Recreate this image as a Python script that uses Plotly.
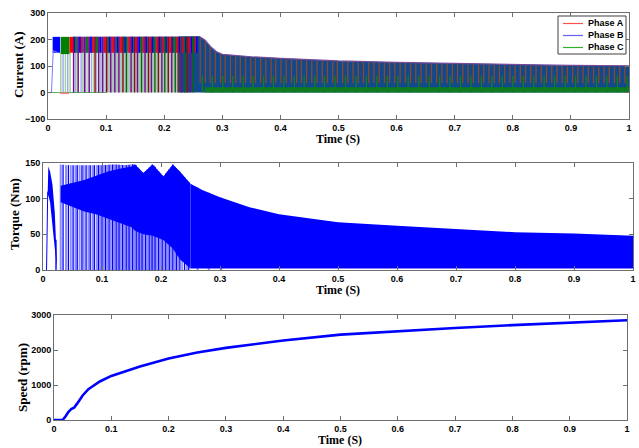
import numpy as np
import plotly.graph_objects as go

# ---------------- data ----------------
# Phase currents: upper envelope of the dense band (A)
cur_env_t = [0.008, 0.26, 0.27, 0.28, 0.29, 0.30, 0.35, 0.40, 0.50, 0.60, 0.70, 0.80, 0.90, 1.00]
cur_env_v = [210, 212, 198, 173, 154, 144, 135, 129, 119, 114, 110, 105, 102, 101]
cur_mid_level = 150          # lower edge of the early high band (A)
cur_green_floor = 20         # top of the green floor in steady running (A)
cur_green_reach = 62         # typical reach of green stripes (A)
cur_brown_low = 35           # lower end of brown stripes (A)
# early solid blocks: (phase colour, start, end, low, high)
cur_blocks = [("#0000ff", 0.008, 0.021, 150, 210),
              ("#008000", 0.022, 0.037, 145, 210),
              ("#ff0000", 0.037, 0.043, 150, 210)]
# pulse stripes reaching from 0 to the top (early region)
cur_purple_t = [0.044, 0.052, 0.063, 0.071, 0.087, 0.094, 0.108, 0.115, 0.122, 0.143,
                0.154, 0.167, 0.178, 0.196, 0.213, 0.230, 0.245]
cur_darkred_t = [0.081, 0.101, 0.129, 0.149, 0.173, 0.190, 0.207, 0.224, 0.240]
cur_dkgreen_t = [0.135, 0.161, 0.184, 0.201, 0.219, 0.235, 0.250]
# stripes in the 150-210 A band (early region)
cur_red_t = [0.058, 0.077, 0.098, 0.112, 0.126, 0.140, 0.152, 0.165, 0.176, 0.188,
             0.199, 0.210, 0.221, 0.232, 0.243, 0.254]
cur_green_t = [0.048, 0.067, 0.084, 0.104, 0.118, 0.131, 0.146, 0.158, 0.170, 0.181,
               0.193, 0.204, 0.216, 0.227, 0.238, 0.248]
cur_blue_t = [0.045, 0.055, 0.074, 0.090, 0.106, 0.120, 0.133, 0.145, 0.157, 0.169,
              0.180, 0.192, 0.203, 0.214, 0.226, 0.237, 0.247, 0.256]
# pale (light) pulses in the early region
cur_palegreen_t = [0.022, 0.030, 0.038, 0.050, 0.060, 0.069, 0.079, 0.088, 0.096]
cur_palelav_t = [0.026, 0.034, 0.047, 0.057, 0.065, 0.075, 0.083, 0.091, 0.099]
# steady-running stripes
cur_brown_t = [0.262, 0.271, 0.279, 0.288, 0.297, 0.305, 0.314, 0.323, 0.331, 0.340,
               0.349, 0.357, 0.366, 0.375, 0.384, 0.392, 0.401, 0.410, 0.419, 0.428,
               0.436, 0.445, 0.454, 0.463, 0.472, 0.481, 0.490, 0.498, 0.507, 0.516,
               0.525, 0.534, 0.543, 0.552, 0.561, 0.570, 0.579, 0.588, 0.597, 0.606,
               0.615, 0.624, 0.633, 0.642, 0.651, 0.660, 0.669, 0.678, 0.687, 0.696,
               0.705, 0.714, 0.723, 0.732, 0.741, 0.750, 0.759, 0.768, 0.777, 0.786,
               0.795, 0.804, 0.813, 0.822, 0.831, 0.840, 0.849, 0.858, 0.867, 0.876,
               0.885, 0.894, 0.903, 0.912, 0.921, 0.930, 0.939, 0.948, 0.957, 0.966,
               0.975, 0.984, 0.993]
cur_lgreen_t = [0.266, 0.283, 0.301, 0.318, 0.336, 0.353, 0.371, 0.388, 0.406, 0.424,
                0.441, 0.459, 0.476, 0.494, 0.512, 0.530, 0.548, 0.566, 0.584, 0.602,
                0.620, 0.638, 0.656, 0.674, 0.692, 0.710, 0.728, 0.746, 0.764, 0.782,
                0.800, 0.818, 0.836, 0.854, 0.872, 0.890, 0.908, 0.926, 0.944, 0.962,
                0.980, 0.997]

# Torque (Nm): upper envelope
tq_env_t = [0.008, 0.009, 0.016, 0.020, 0.024, 0.028, 0.04, 0.06, 0.08, 0.10, 0.12, 0.14,
            0.156, 0.170, 0.186, 0.204, 0.220, 0.232, 0.25, 0.27, 0.30, 0.35, 0.40, 0.45,
            0.50, 0.60, 0.70, 0.80, 0.90, 1.00]
tq_env_v = [110, 145, 120, 80, 5, 148, 147, 147, 147, 147, 148, 147,
            148.6, 135.6, 148.6, 131, 148, 137.6, 121, 112, 102, 88, 78, 72,
            67, 62, 57, 53, 51, 48]
tq_floor = 2
# first start-up wedge
tq_wedge_t = [0.008, 0.009, 0.012, 0.016, 0.020, 0.024]
tq_wedge_top = [110, 145, 138, 120, 80, 5]
tq_wedge_bot = [100, 105, 95, 65, 30, 0]
# dense core band during acceleration
tq_core_t = [0.030, 0.050, 0.070, 0.090, 0.110, 0.130, 0.150, 0.156, 0.170, 0.186, 0.204,
             0.220, 0.232, 0.250]
tq_core_top = [118, 122, 126, 132, 138, 142, 145, 148, 136, 148, 131, 148, 138, 121]
tq_core_bot = [95, 88, 82, 78, 72, 66, 60, 55, 50, 48, 42, 30, 15, 2]
# torque dips reaching zero
tq_dark_t = [0.022, 0.034, 0.043, 0.051, 0.058, 0.066, 0.073, 0.080, 0.087, 0.094, 0.100,
             0.106, 0.112, 0.118, 0.124, 0.129, 0.135, 0.141, 0.146, 0.152, 0.158, 0.163,
             0.168, 0.174, 0.180, 0.185, 0.190, 0.196, 0.202, 0.208, 0.214, 0.220, 0.226,
             0.232, 0.240, 0.247]
tq_pale_t = [0.030, 0.039, 0.047, 0.055, 0.062, 0.069, 0.077, 0.084, 0.091, 0.097, 0.103,
             0.109, 0.115, 0.121, 0.127, 0.132, 0.138, 0.144, 0.149, 0.155, 0.161, 0.166,
             0.171, 0.177, 0.183, 0.188, 0.193, 0.199, 0.205, 0.211, 0.217, 0.223, 0.229,
             0.236, 0.244, 0.262, 0.281, 0.302]

# Speed (rpm)
spd_t = [0, 0.015, 0.02, 0.025, 0.03, 0.035, 0.04, 0.05, 0.06, 0.07, 0.08, 0.1, 0.125,
         0.15, 0.2, 0.25, 0.3, 0.35, 0.4, 0.5, 0.6, 0.7, 0.8, 0.9, 1.0]
spd_v = [0, 0, 100, 230, 310, 350, 460, 700, 880, 1000, 1100, 1260, 1400, 1530, 1760,
         1930, 2060, 2170, 2270, 2440, 2540, 2630, 2710, 2790, 2850]

x_ticks = [0, 0.1, 0.2, 0.3, 0.4, 0.5, 0.6, 0.7, 0.8, 0.9, 1]
legend_names = ["Phase A", "Phase B", "Phase C"]
legend_colors = ["#ff5050", "#6060ff", "#30b030"]

# ---------------- helpers ----------------
fig = go.Figure()
W, H = 639, 448


def band(t, top, bot, color, xa, ya, opacity=1.0):
    t = list(t)
    fig.add_trace(go.Scatter(x=t + t[::-1], y=list(top) + list(bot)[::-1], fill="toself",
                             fillcolor=color, line=dict(width=0), mode="lines",
                             opacity=opacity, hoverinfo="skip", showlegend=False,
                             xaxis=xa, yaxis=ya))


def stripes(ts, lo, hi, color, width, xa, ya, opacity=1.0):
    xs, ys = [], []
    for i, t in enumerate(ts):
        l = lo[i] if isinstance(lo, (list, np.ndarray)) else lo
        h = hi[i] if isinstance(hi, (list, np.ndarray)) else hi
        xs += [t, t, None]
        ys += [l, h, None]
    fig.add_trace(go.Scatter(x=xs, y=ys, mode="lines", line=dict(color=color, width=width),
                             opacity=opacity, hoverinfo="skip", showlegend=False,
                             xaxis=xa, yaxis=ya))


# ---------------- Current panel ----------------
cenv = lambda ts: np.interp(ts, cur_env_t, cur_env_v)
band([0.10, 0.24], [150, 150], [0, 0], "#aac6bc", "x", "y")
stripes(cur_palegreen_t, 0, cur_mid_level, "#9fd49f", 1.5, "x", "y")
stripes(cur_palelav_t, 0, cur_mid_level, "#a9a9ef", 1.5, "x", "y")
band([0.043, 0.26], [210, 211], [150, 150], "#5b4fb4", "x", "y")
dt = [0.225] + [t for t in cur_env_t if t > 0.225]
band(dt, list(cenv(dt)), [0] * len(dt), "#12488c", "x", "y")
for col, t0, t1, lo, hi in cur_blocks:
    band([t0, t1], [hi, hi], [lo, lo], col, "x", "y")
fig.add_trace(go.Scatter(x=[0, 0.006, 0.009, 0.018], y=[0, 0, 158, 150], mode="lines",
                         line=dict(color="#7d7dff", width=1), hoverinfo="skip",
                         showlegend=False, xaxis="x", yaxis="y"))
fig.add_trace(go.Scatter(x=[0, 0.1], y=[0, 0], mode="lines",
                         line=dict(color="#60b060", width=1), hoverinfo="skip",
                         showlegend=False, xaxis="x", yaxis="y"))
fig.add_trace(go.Scatter(x=[0.021, 0.036], y=[-3, -3], mode="lines",
                         line=dict(color="#ff8080", width=1.5), hoverinfo="skip",
                         showlegend=False, xaxis="x", yaxis="y"))
stripes(cur_red_t, 150, 210, "#ff0000", 1.6, "x", "y")
stripes(cur_green_t, 150, 210, "#008000", 1.6, "x", "y")
stripes(cur_blue_t, 150, 210, "#0000ff", 1.6, "x", "y")
stripes(cur_purple_t, 0, 210, "#7a0a8a", 1.4, "x", "y")
stripes(cur_darkred_t, 0, 210, "#8b1010", 1.4, "x", "y")
stripes(cur_dkgreen_t, 0, 210, "#0a6a0a", 1.4, "x", "y")
stripes(cur_brown_t, cur_brown_low, list(cenv(cur_brown_t) - 3), "#8a4a2a", 1.3, "x", "y")
stripes(cur_lgreen_t, 0, cur_green_reach, "#0f7f1f", 1.4, "x", "y")
band([0.27, 1.0], [cur_green_floor, cur_green_floor], [0, 0], "#107a20", "x", "y")
et = [t for t in cur_env_t if t >= 0.26]
fig.add_trace(go.Scatter(x=et, y=list(cenv(et)), mode="lines",
                         line=dict(color="#7a4a9a", width=1.2), hoverinfo="skip",
                         showlegend=False, xaxis="x", yaxis="y"))

# ---------------- Torque panel ----------------
tenv = lambda ts: np.interp(ts, tq_env_t, tq_env_v)
stripes(tq_pale_t, 0, list(tenv(tq_pale_t)), "#8c8cff", 2.0, "x2", "y2")
band(tq_wedge_t, tq_wedge_top, tq_wedge_bot, "#0000ff", "x2", "y2")
band(tq_core_t, tq_core_top, tq_core_bot, "#0000ff", "x2", "y2")
lt = [0.25] + [t for t in tq_env_t if t > 0.25]
band(lt, list(tenv(lt)), [tq_floor] * len(lt), "#0000ff", "x2", "y2")
stripes(tq_dark_t, 0, list(tenv(tq_dark_t)), "#0000ff", 1.3, "x2", "y2")
fig.add_trace(go.Scatter(x=[0.006, 0.008], y=[0, 110], mode="lines",
                         line=dict(color="#0000ff", width=1), hoverinfo="skip",
                         showlegend=False, xaxis="x2", yaxis="y2"))

# ---------------- Speed panel ----------------
fig.add_trace(go.Scatter(x=spd_t, y=spd_v, mode="lines", line=dict(color="#0000ff", width=2.6),
                         hoverinfo="skip", showlegend=False, xaxis="x3", yaxis="y3"))

# ---------------- layout ----------------
tickfont = dict(family="Arial, Liberation Sans", size=9, color="#000000", weight="bold")
axstyle = dict(showline=True, linecolor="#6e6e6e", linewidth=1, mirror="ticks",
               ticks="inside", ticklen=4, tickcolor="#6e6e6e", showgrid=False,
               zeroline=False, tickfont=tickfont, automargin=False)


def px_dom(a, b, total, flip=False):
    if flip:
        return [1 - b / total, 1 - a / total]
    return [a / total, b / total]


fig.update_layout(
    width=W, height=H, autosize=False, margin=dict(l=0, r=0, t=0, b=0),
    plot_bgcolor="white", paper_bgcolor="white", showlegend=False,
    xaxis=dict(domain=px_dom(48, 629, W), anchor="y", range=[0, 1], tickvals=x_ticks, **axstyle),
    yaxis=dict(domain=px_dom(13, 119, H, True), anchor="x", range=[-100, 300],
               tickvals=[-100, 0, 100, 200, 300], **axstyle),
    xaxis2=dict(domain=px_dom(43, 633, W), anchor="y2", range=[0, 1], tickvals=x_ticks, **axstyle),
    yaxis2=dict(domain=px_dom(163, 270, H, True), anchor="x2", range=[0, 150],
                tickvals=[0, 50, 100, 150], **axstyle),
    xaxis3=dict(domain=px_dom(54, 627, W), anchor="y3", range=[0, 1], tickvals=x_ticks, **axstyle),
    yaxis3=dict(domain=px_dom(315, 420, H, True), anchor="x3", range=[0, 3000],
                tickvals=[0, 1000, 2000, 3000], tickformat="d", **axstyle),
)

# legend box drawn in pixel positions (paper coordinates)
px = lambda v: v / W
py = lambda v: 1 - v / H
fig.add_shape(type="rect", xref="paper", yref="paper", x0=px(558), x1=px(626), y0=py(54), y1=py(16),
              line=dict(color="#404040", width=1), fillcolor="white", layer="above")
for i, (nm, col) in enumerate(zip(legend_names, legend_colors)):
    yy = [23.5, 35.5, 47.5][i]
    fig.add_shape(type="line", xref="paper", yref="paper", x0=px(563), x1=px(583),
                  y0=py(yy), y1=py(yy), line=dict(color=col, width=1.2), layer="above")
    fig.add_annotation(text="<b>%s</b>" % nm, x=px(586), y=py(yy), xref="paper", yref="paper",
                       showarrow=False, xanchor="left", yanchor="middle",
                       font=dict(family="Arial, Liberation Sans", size=9, color="#000"))

ytitle_font = dict(family="Times New Roman, Liberation Serif", size=13, color="#000")
xtitle_font = dict(family="Times New Roman, Liberation Serif", size=12, color="#000")
ann = [
    ("<b>Current (A)</b>", 18, 65, -90, ytitle_font),
    ("<b>Time (S)</b>", 338, 139, 0, xtitle_font),
    ("<b>Torque (Nm)</b>", 14, 214, -90, ytitle_font),
    ("<b>Time (S)</b>", 338, 290, 0, xtitle_font),
    ("<b>Speed (rpm)</b>", 22, 378, -90, ytitle_font),
    ("<b>Time (S)</b>", 340, 440, 0, xtitle_font),
]
for txt, x, y, ang, f in ann:
    fig.add_annotation(text=txt, x=x / W, y=1 - y / H, xref="paper", yref="paper",
                       showarrow=False, textangle=ang, font=f,
                       xanchor="center", yanchor="middle")

fig.write_html("out.html", config={"displayModeBar": False},
               post_script="document.body.style.margin='0';document.body.style.overflow='hidden';")
